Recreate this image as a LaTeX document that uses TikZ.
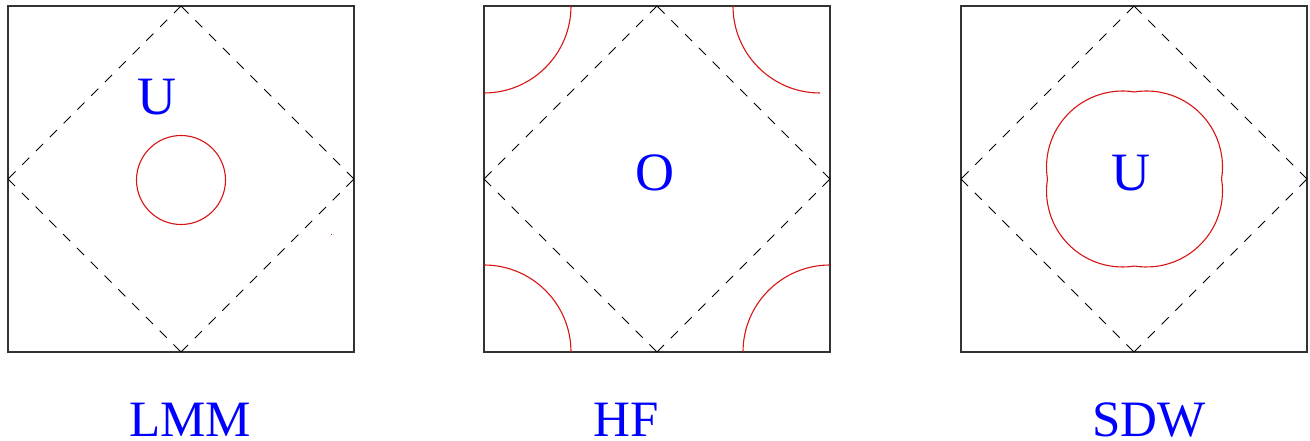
\documentclass[tikz,border=0pt]{standalone}
\usepackage{fontspec}
\setmainfont{Liberation Serif}
\definecolor{fsred}{RGB}{215,20,20}
\definecolor{lblue}{RGB}{0,0,255}
\tikzset{
  frame/.style={draw=black!80, line width=1.1pt},
  bz/.style={draw=black, line width=0.9pt, dash pattern=on 10pt off 9.5pt},
  fs/.style={draw=fsred, line width=1.1pt},
  lbl/.style={text=lblue, inner sep=0pt, font=\fontsize{54}{60}\selectfont},
  caplabel/.style={text=lblue, inner sep=0pt, anchor=base, font=\fontsize{51}{56}\selectfont},
}
\begin{document}
\begin{tikzpicture}[x=1pt,y=1pt]
\useasboundingbox (0,0) rectangle (1310,441);
% ---------- panel 1: LMM ----------
\coordinate (aT) at (181,435); \coordinate (aL) at (8,262);
\coordinate (aB) at (181,89);  \coordinate (aR) at (354,262);
\draw[frame] (8,89) rectangle (354,435);
\draw[bz] (aT) -- (aL); \draw[bz] (aL) -- (aB);
\draw[bz] (aB) -- (aR); \draw[bz] (aR) -- (aT);
\draw[fs] (181,261) circle[radius=44.5];
\fill[fsred] (330.5,205.5) rectangle (332,206.5);
\node[lbl] (u1) at (157,343.5) {U};
\node[caplabel] (lmm) at (190,4.5) {LMM};
% ---------- panel 2: HF ----------
\coordinate (bT) at (657,435); \coordinate (bL) at (484,262);
\coordinate (bB) at (657,89);  \coordinate (bR) at (830,262);
\draw[frame] (484,89) rectangle (830,435);
\draw[bz] (bT) -- (bL); \draw[bz] (bL) -- (bB);
\draw[bz] (bB) -- (bR); \draw[bz] (bR) -- (bT);
\draw[fs] (571,435) arc[start angle=0, end angle=-90, radius=87];
\draw[fs] (733,435) arc[start angle=180, end angle=270, radius=87];
\draw[fs] (484,176) arc[start angle=90, end angle=0, radius=87];
\draw[fs] (743,89) arc[start angle=180, end angle=90, radius=87];
\node[lbl] (o2) at (655,268) {O};
\node[caplabel] (hf) at (626,4.5) {HF};
% ---------- panel 3: SDW ----------
\coordinate (cT) at (1134,435); \coordinate (cL) at (961,262);
\coordinate (cB) at (1134,89);  \coordinate (cR) at (1307,262);
\draw[frame] (961,89) rectangle (1307,435);
\draw[bz] (cT) -- (cL); \draw[bz] (cL) -- (cB);
\draw[bz] (cB) -- (cR); \draw[bz] (cR) -- (cT);
\draw[fs] (1134.5+87.05,262)
   arc[start angle=-9.08, end angle=99.08, radius=76]
   arc[start angle=80.92, end angle=189.08, radius=76]
   arc[start angle=170.92, end angle=279.08, radius=76]
   arc[start angle=260.92, end angle=369.08, radius=76] -- cycle;
\node[lbl] (u3) at (1131,268) {U};
\node[caplabel] (sdw) at (1149,4.5) {SDW};
\end{tikzpicture}
\end{document}
